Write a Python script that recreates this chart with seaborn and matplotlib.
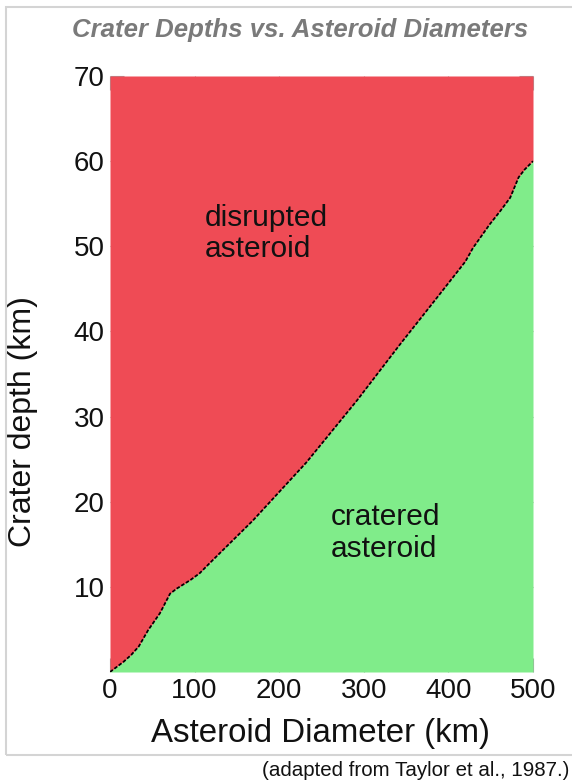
import matplotlib
matplotlib.use("Agg")
import matplotlib.pyplot as plt
import seaborn as sns
import pandas as pd
from matplotlib.patches import Rectangle

# Data
diameter_km = [0, 16, 25, 34, 45, 59, 71, 79, 95, 106, 118, 169, 232, 292, 343,
               386, 420, 429, 449, 461, 473, 483, 490, 500]
depth_km = [0, 1.2, 2.0, 3.0, 4.9, 6.9, 9.2, 9.8, 10.8, 11.6, 12.8, 17.8, 24.6,
            31.9, 38.5, 43.9, 48.2, 49.8, 52.6, 54.1, 55.7, 58.1, 59.0, 60.0]
x_ticks = [0, 100, 200, 300, 400, 500]
y_ticks = [10, 20, 30, 40, 50, 60, 70]

title = "Crater Depths vs. Asteroid Diameters"
x_label = "Asteroid Diameter (km)"
y_label = "Crater depth (km)"
upper_label = "disrupted\nasteroid"
lower_label = "cratered\nasteroid"
footnote = "(adapted from Taylor et al., 1987.)"

sns.set_theme(style="white")
plt.rcParams["font.family"] = ["Liberation Sans", "DejaVu Sans"]

df = pd.DataFrame({"diameter": diameter_km, "depth": depth_km})

fig = plt.figure(figsize=(5.72, 7.8), dpi=100)
# outer frame
fig.patches.append(Rectangle((6 / 572, 25 / 780), 1.2, 748 / 780,
                             transform=fig.transFigure, fill=False,
                             edgecolor="#d4d4d4", linewidth=1.5))

ax = fig.add_axes([110 / 572, (780 - 672) / 780, 423 / 572, (672 - 76) / 780])

red = "#EF4B55"
green = "#80EC8A"
ax.fill_between(df["diameter"], df["depth"], 70, color=red, linewidth=0)
ax.fill_between(df["diameter"], 0, df["depth"], color=green, linewidth=0)
sns.lineplot(data=df, x="diameter", y="depth", ax=ax, color="black",
             linewidth=1.3, linestyle=(0, (2, 1)))

ax.set_xlim(0, 500)
ax.set_ylim(0, 70)
ax.set_xticks(x_ticks)
ax.set_yticks(y_ticks)
ax.tick_params(axis="both", direction="in", length=10, width=0.8,
               color="#a0a0a0", labelsize=20, labelcolor="#111111", pad=4,
               top=True, right=True, bottom=True, left=True)
for s in ax.spines.values():
    s.set_visible(False)

ax.set_xlabel(x_label, fontsize=23.8, color="#111111")
ax.xaxis.set_label_coords(0.4965, -0.077)
ax.set_ylabel(y_label, fontsize=23, color="#111111")
ax.yaxis.set_label_coords(-0.17, 0.42)

ax.text(112, 51.5, upper_label, fontsize=21.5, color="#111111",
        ha="left", va="center", linespacing=1.15)
ax.text(261, 16.3, lower_label, fontsize=21.5, color="#111111",
        ha="left", va="center", linespacing=1.2)

fig.text(300 / 572, 1 - 30 / 780, title, fontsize=18.5, fontweight="bold",
         fontstyle="italic", color="#7a7a7a", ha="center", va="center")
fig.text(262 / 572, 1 - 770 / 780, footnote, fontsize=14.8, color="#111111",
         ha="left", va="center")

fig.savefig("out.png", dpi=100)
